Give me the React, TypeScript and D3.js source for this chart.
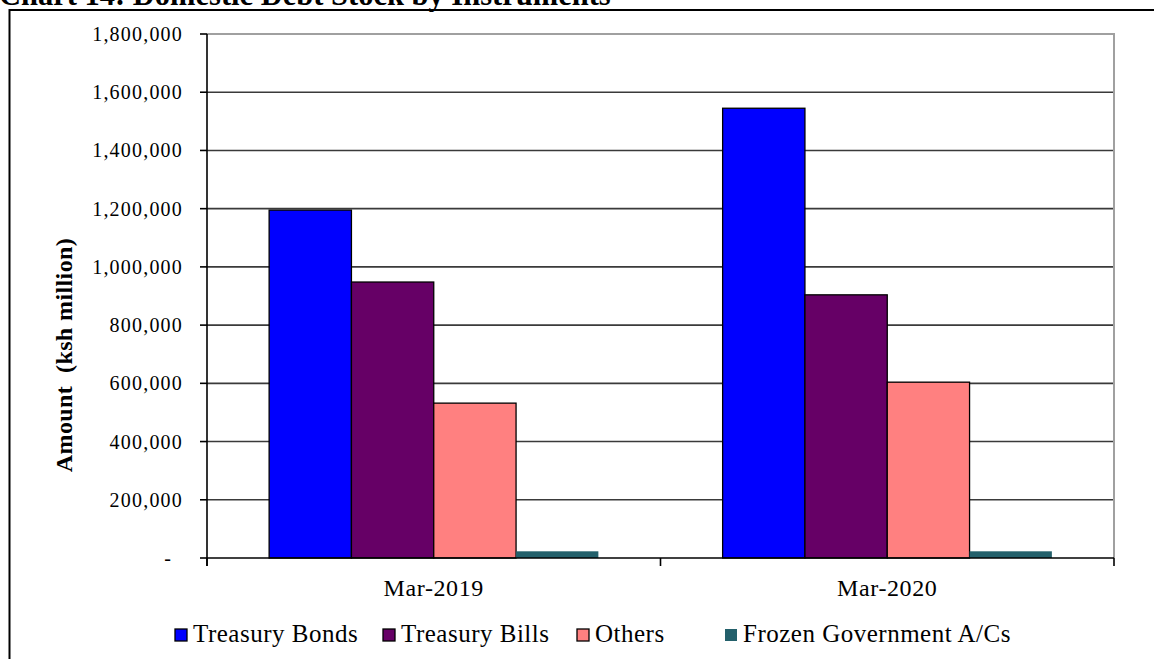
import React, { useEffect, useRef } from "react";
import * as d3 from "d3";

const categories = ["Mar-2019", "Mar-2020"];
const seriesNames = ["Treasury Bonds", "Treasury Bills", "Others", "Frozen Government A/Cs"];
const seriesColors = ["#0000ff", "#660066", "#ff8080", "#23606b"];
const treasuryBonds = [1195000, 1545000];
const treasuryBills = [948000, 904000];
const others = [532000, 604000];
const frozenAccounts = [23000, 23000];
const yTicks = [0, 200000, 400000, 600000, 800000, 1000000, 1200000, 1400000, 1600000, 1800000];
const title = "Chart 14: Domestic Debt Stock by Instruments";
const yLabel = "Amount  (ksh million)";

const W = 1154;
const H = 659;

export default function App() {
  const ref = useRef<SVGSVGElement | null>(null);

  useEffect(() => {
    const svg = d3.select(ref.current);
    svg.selectAll("*").remove();
    const serif = "'Liberation Serif', 'Times New Roman', serif";

    const left = 207, right = 1114, top = 34, bottom = 558;
    const values = [treasuryBonds, treasuryBills, others, frozenAccounts];

    const y = d3.scaleLinear().domain([0, 1800000]).range([bottom, top]);
    const x0 = d3.scaleBand<string>().domain(categories).range([left, right]).padding(0);
    const bw = x0.bandwidth();
    const x1 = d3.scaleBand<string>().domain(seriesNames).range([bw * 0.137, bw * 0.863]).padding(0);

    // outer frame
    svg.append("rect").attr("x", 9.5).attr("y", 10).attr("width", 1200).attr("height", 700)
      .attr("fill", "#fff").attr("stroke", "#000").attr("stroke-width", 2);

    // title (clipped at top, as in the source)
    svg.append("text").attr("x", -1).attr("y", 5).attr("font-family", serif)
      .attr("font-weight", "bold").attr("font-size", 30.5).attr("fill", "#000").text(title);

    // gridlines
    svg.append("g").selectAll("line").data(yTicks.filter(t => t > 0 && t < 1800000)).join("line")
      .attr("x1", left).attr("x2", right).attr("y1", d => y(d)).attr("y2", d => y(d))
      .attr("stroke", "#3a3a3a").attr("stroke-width", 1.6);

    // plot area border (top + right)
    svg.append("path").attr("d", `M${left},${y(1800000)}H${right}V${bottom}`)
      .attr("fill", "none").attr("stroke", "#a0a0a0").attr("stroke-width", 2);

    // bars
    const g = svg.append("g");
    categories.forEach((c, ci) => {
      seriesNames.forEach((s, si) => {
        const v = values[si][ci];
        g.append("rect")
          .attr("x", (x0(c) as number) + (x1(s) as number))
          .attr("y", y(v))
          .attr("width", x1.bandwidth())
          .attr("height", bottom - y(v))
          .attr("fill", seriesColors[si])
          .attr("stroke", si === 3 ? "none" : "#000")
          .attr("stroke-width", 1.3);
      });
    });

    // y axis
    svg.append("line").attr("x1", left).attr("x2", left).attr("y1", top).attr("y2", bottom + 8)
      .attr("stroke", "#000").attr("stroke-width", 1.6);
    svg.append("g").selectAll("line").data(yTicks).join("line")
      .attr("x1", left - 7).attr("x2", left).attr("y1", d => y(d)).attr("y2", d => y(d))
      .attr("stroke", "#000").attr("stroke-width", 1.6);
    const fmt = d3.format(",");
    svg.append("g").selectAll("text").data(yTicks).join("text")
      .attr("x", d => (d === 0 ? 172 : 183))
      .attr("y", d => y(d) + 7)
      .attr("text-anchor", "end")
      .attr("font-family", serif).attr("font-size", 20).attr("letter-spacing", 1.2)
      .attr("fill", "#000")
      .text(d => (d === 0 ? "-" : fmt(d)));

    // x axis
    svg.append("line").attr("x1", left).attr("x2", right).attr("y1", bottom).attr("y2", bottom)
      .attr("stroke", "#000").attr("stroke-width", 1.6);
    const xTickPos = [left, ...categories.map(c => (x0(c) as number) + bw)];
    svg.append("g").selectAll("line").data(xTickPos).join("line")
      .attr("x1", d => d).attr("x2", d => d).attr("y1", bottom).attr("y2", bottom + 8)
      .attr("stroke", "#000").attr("stroke-width", 1.6);
    svg.append("g").selectAll("text").data(categories).join("text")
      .attr("x", c => (x0(c) as number) + bw / 2)
      .attr("y", 596)
      .attr("text-anchor", "middle")
      .attr("font-family", serif).attr("font-size", 24).attr("letter-spacing", 0.6)
      .attr("fill", "#000")
      .text(c => c);

    // y label
    svg.append("text")
      .attr("transform", `translate(72,355) rotate(-90)`)
      .attr("text-anchor", "middle")
      .attr("font-family", serif).attr("font-weight", "bold").attr("font-size", 24)
      .attr("letter-spacing", 0.4)
      .style("white-space", "pre")
      .attr("fill", "#000").text(yLabel);

    // legend
    const legendX = [175, 383, 577, 725];
    const lg = svg.append("g");
    seriesNames.forEach((s, i) => {
      lg.append("rect").attr("x", legendX[i]).attr("y", 629).attr("width", 12).attr("height", 12)
        .attr("fill", seriesColors[i]).attr("stroke", i === 3 ? "none" : "#000").attr("stroke-width", 1.3);
      lg.append("text").attr("x", legendX[i] + 18).attr("y", 642)
        .attr("font-family", serif).attr("font-size", 25).attr("letter-spacing", 0.5)
        .attr("fill", "#000").text(s);
    });
  }, []);

  return (
    <svg
      ref={ref}
      width={W}
      height={H}
      style={{ position: "absolute", left: 0, top: 0, background: "#fff" }}
    />
  );
}
